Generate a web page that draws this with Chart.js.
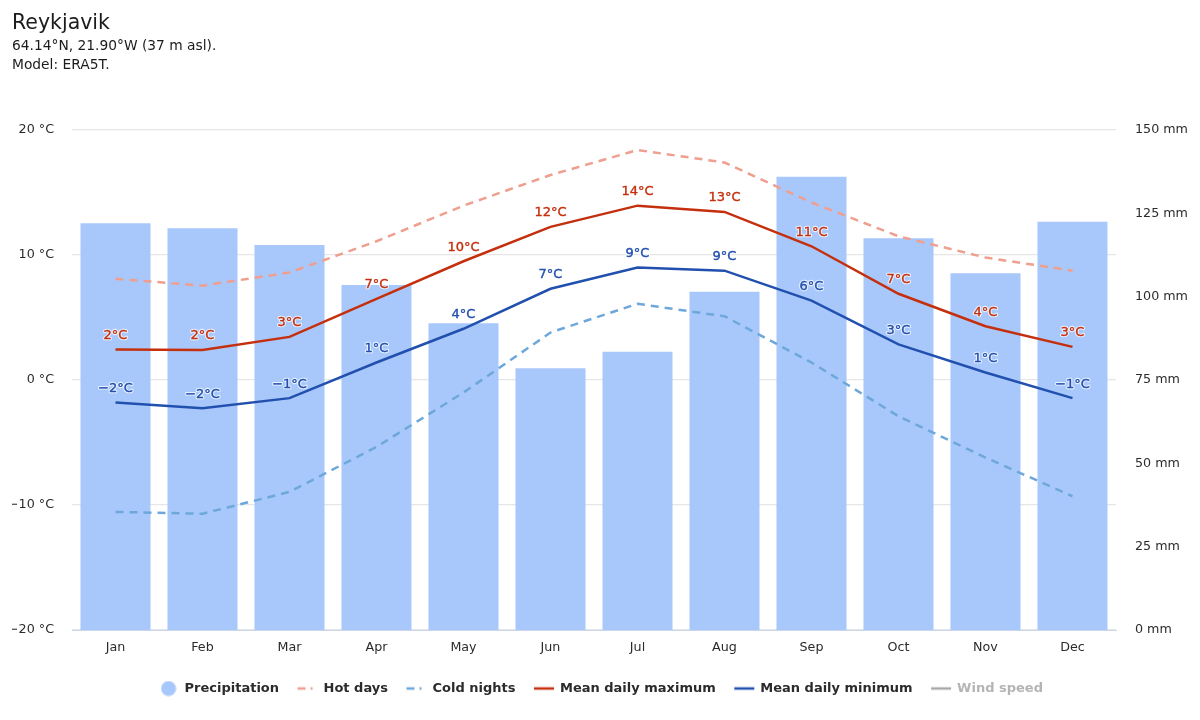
<!DOCTYPE html>
<html>
<head>
<meta charset="utf-8">
<title>Reykjavik</title>
<script src="https://cdn.jsdelivr.net/npm/chart.js@4"></script>
<style>
  html, body { margin: 0; padding: 0; background: #fff; }
  #wrap { width: 1200px; height: 720px; }
</style>
</head>
<body>
<div id="wrap"><canvas id="mycanvas" width="1200" height="720"></canvas></div>
<script>
var months = ['Jan', 'Feb', 'Mar', 'Apr', 'May', 'Jun', 'Jul', 'Aug', 'Sep', 'Oct', 'Nov', 'Dec'];
var precipitation = [122, 120.5, 115.5, 103.5, 92, 78.5, 83.5, 101.5, 136, 117.5, 107, 122.5];
var hotDays = [8.1, 7.55, 8.6, 11.1, 13.95, 16.4, 18.4, 17.4, 14.2, 11.5, 9.8, 8.75];
var coldNights = [-10.55, -10.7, -8.95, -5.35, -1, 3.8, 6.1, 5.1, 1.4, -2.9, -6.2, -9.3];
var meanMax = [2.45, 2.4, 3.45, 6.5, 9.5, 12.25, 13.95, 13.45, 10.7, 6.9, 4.3, 2.65];
var meanMin = [-1.8, -2.25, -1.45, 1.4, 4.1, 7.3, 9, 8.75, 6.35, 2.85, 0.6, -1.45];
var windSpeed = [];

var FONT = '"DejaVu Sans", sans-serif';
var INK = '#2b2b2b';

function minus(v) {
  return String(v).replace('-', '\u2212');
}

// value labels with a white halo, datalabels plugin is not available here
var valueLabels = {
  id: 'valueLabels',
  afterDatasetsDraw: function(chart) {
    var ctx = chart.ctx;
    ctx.save();
    ctx.font = '13px ' + FONT;
    ctx.textAlign = 'center';
    ctx.textBaseline = 'middle';
    ctx.lineJoin = 'round';
    chart.data.datasets.forEach(function(ds, i) {
      if (!ds.showValues) return;
      chart.getDatasetMeta(i).data.forEach(function(pt, j) {
        var text = minus(Math.round(ds.data[j])) + '\u00b0C';
        var y = pt.y - 14;
        ctx.lineWidth = 2.5;
        ctx.strokeStyle = 'rgba(255,255,255,0.75)';
        ctx.strokeText(text, pt.x, y);
        ctx.lineWidth = 0.4;
        ctx.strokeStyle = ds.borderColor;
        ctx.strokeText(text, pt.x, y);
        ctx.fillStyle = ds.borderColor;
        ctx.fillText(text, pt.x, y);
      });
    });
    ctx.restore();
  }
};

// legend glyphs, drawn once and handed over as point styles
function legendDot(color) {
  var c = document.createElement('canvas');
  c.width = 16; c.height = 16;
  var g = c.getContext('2d');
  g.fillStyle = color;
  g.beginPath();
  g.arc(8, 8, 7.5, 0, Math.PI * 2);
  g.fill();
  return c;
}

function legendLine(color, dashed) {
  var c = document.createElement('canvas');
  c.width = 22; c.height = 6;
  var g = c.getContext('2d');
  g.strokeStyle = color;
  g.lineWidth = 2.5;
  if (dashed) g.setLineDash([8, 5, 2, 20]);
  g.beginPath();
  g.moveTo(1, 3);
  g.lineTo(21, 3);
  g.stroke();
  return c;
}

function lineSet(label, data, color, extra) {
  return Object.assign({
    type: 'line',
    label: label,
    data: data,
    yAxisID: 'temp',
    borderColor: color,
    backgroundColor: color,
    borderWidth: 2.5,
    pointRadius: 0,
    tension: 0,
    order: 1
  }, extra);
}

var chartdata = {
  labels: months,
  datasets: [
    {
      type: 'bar',
      label: 'Precipitation',
      data: precipitation,
      yAxisID: 'rain',
      backgroundColor: '#a8c8fc',
      categoryPercentage: 1,
      barPercentage: 0.805,
      order: 5
    },
    lineSet('Hot days', hotDays, '#ef9f8f', { borderDash: [8, 6], order: 3 }),
    lineSet('Cold nights', coldNights, '#6ea8da', { borderDash: [8, 6], order: 3 }),
    lineSet('Mean daily maximum', meanMax, '#c4300e', { showValues: true }),
    lineSet('Mean daily minimum', meanMin, '#2250ae', { showValues: true }),
    lineSet('Wind speed', windSpeed, '#a8a8a8', {})
  ]
};

var legendGlyphs = [
  legendDot('#a8c8fc'),
  legendLine('#ef9f8f', true),
  legendLine('#6ea8da', true),
  legendLine('#c4300e'),
  legendLine('#2250ae'),
  legendLine('#a8a8a8')
];

new Chart(document.getElementById('mycanvas'), {
  data: chartdata,
  plugins: [valueLabels],
  options: {
    responsive: false,
    animation: false,
    devicePixelRatio: 1,
    layout: { padding: { left: 12, right: 10, top: 11, bottom: 15 } },
    plugins: {
      title: {
        display: true,
        text: 'Reykjavik',
        align: 'start',
        color: '#1c1c1c',
        font: { family: FONT, size: 20.5, weight: 'normal' },
        padding: { top: 0, bottom: 2 }
      },
      subtitle: {
        display: true,
        text: ['64.14\u00b0N, 21.90\u00b0W (37 m asl).', 'Model: ERA5T.'],
        align: 'start',
        color: '#1c1c1c',
        font: { family: FONT, size: 13.8, weight: 'normal', lineHeight: 1.32 },
        padding: { top: 0, bottom: 56 }
      },
      legend: {
        position: 'bottom',
        labels: {
          usePointStyle: true,
          pointStyleWidth: 19,
          boxHeight: 14,
          padding: 19,
          font: { family: FONT, size: 13, weight: 'bold' },
          color: INK,
          generateLabels: function(chart) {
            return chart.data.datasets.map(function(ds, i) {
              return {
                text: ds.label,
                pointStyle: legendGlyphs[i],
                fontColor: ds.label === 'Wind speed' ? '#b4b4b4' : INK,
                datasetIndex: i,
                lineWidth: 0
              };
            });
          }
        }
      },
      tooltip: { enabled: false }
    },
    scales: {
      x: {
        grid: { display: false, drawTicks: false },
        border: { color: '#ccd6eb' },
        ticks: { color: INK, font: { family: FONT, size: 12.7 }, padding: 10 },
        afterFit: function(scale) { scale.height = 33; }
      },
      temp: {
        position: 'left',
        min: -20,
        max: 20,
        grid: { color: '#e6e6e6', drawTicks: false, lineWidth: 1.2 },
        border: { display: false },
        ticks: {
          stepSize: 10,
          padding: 18,
          color: INK,
          font: { family: FONT, size: 12.7 },
          callback: function(v) { return minus(v) + ' \u00b0C'; }
        },
        afterFit: function(scale) { scale.width = 60; }
      },
      rain: {
        position: 'right',
        min: 0,
        max: 150,
        grid: { display: false, drawTicks: false },
        border: { display: false },
        ticks: {
          stepSize: 25,
          padding: 19,
          color: INK,
          font: { family: FONT, size: 12.7 },
          callback: function(v) { return v + ' mm'; }
        },
        afterFit: function(scale) { scale.width = 74; }
      }
    }
  }
});
</script>
</body>
</html>
